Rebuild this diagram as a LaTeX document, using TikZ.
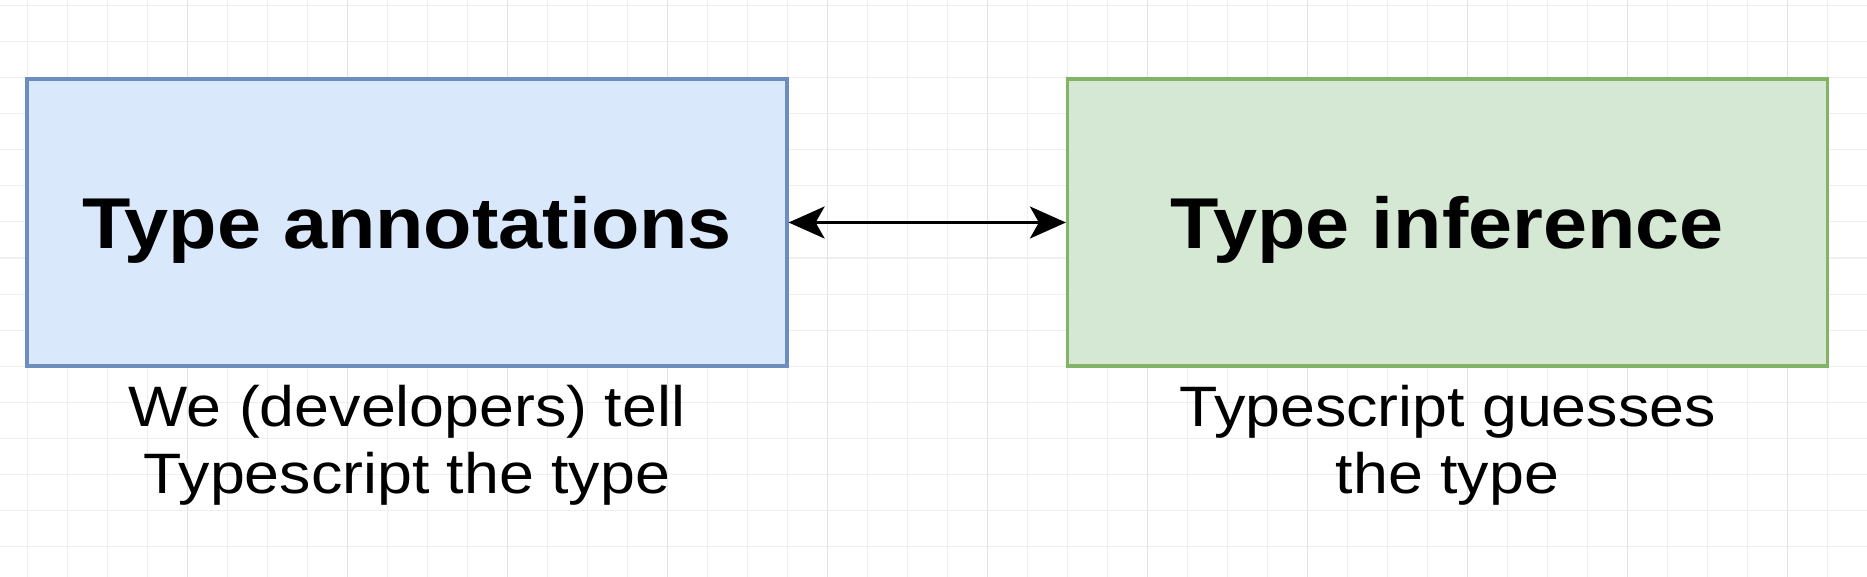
\documentclass[tikz,border=0pt]{standalone}
\usepackage{fontspec}
\setmainfont{Liberation Sans}
\usetikzlibrary{positioning,arrows.meta}

\definecolor{annotfill}{HTML}{DAE8FC}
\definecolor{annotline}{HTML}{6C8EBF}
\definecolor{inferfill}{HTML}{D5E8D4}
\definecolor{inferline}{HTML}{82B366}
\definecolor{gridminor}{HTML}{EFEFEF}
\definecolor{gridmajor}{HTML}{E3E3E3}

% screenshot text is a bit wider than the font
\newcommand{\wide}[1]{\scalebox{1.1}[1]{#1}}

\tikzset{
  typebox/.style={draw, line width=3.2pt, minimum width=760pt, minimum height=287pt,
    inner sep=0pt, text depth=0pt, font=\fontsize{72}{80}\selectfont\bfseries},
  note/.style={align=center, inner sep=0pt, font=\fontsize{57}{67}\selectfont},
  both/.style={{Stealth[length=36pt,width=32pt,inset=9pt]}-{Stealth[length=36pt,width=32pt,inset=9pt]}, line width=2.8pt},
}

\begin{document}
\begin{tikzpicture}[x=1pt,y=-1pt]
                \fill[white] (0,0) rectangle (1867,577);
                \useasboundingbox (0,0) rectangle (1867,577);

                % grid
                \foreach \gx in {27,67,...,1867}
                    \draw[gridminor, line width=1pt] (\gx,0) -- (\gx,577);
                \foreach \gy in {6,42,...,577}
                    \draw[gridminor, line width=1pt] (0,\gy) -- (1867,\gy);
                \foreach \gx in {187,347,...,1867}
                    \draw[gridmajor, line width=1pt] (\gx,0) -- (\gx,577);

                \node[typebox, draw=annotline, fill=annotfill] (annot) at (407,222.5) {\wide{Type annotations}};
                \node[typebox, draw=inferline, fill=inferfill] (infer) at (1447.5,222.5) {\wide{Type inference}};

                \draw[both] (annot) -- (infer);

                \node[note, below=17pt of annot] (annotnote) {\wide{We (developers) tell}\\\wide{Typescript the type}};
                \node[note, below=17pt of infer] (infernote) {\wide{Typescript guesses}\\\wide{the type}};
            \end{tikzpicture}
\end{document}
